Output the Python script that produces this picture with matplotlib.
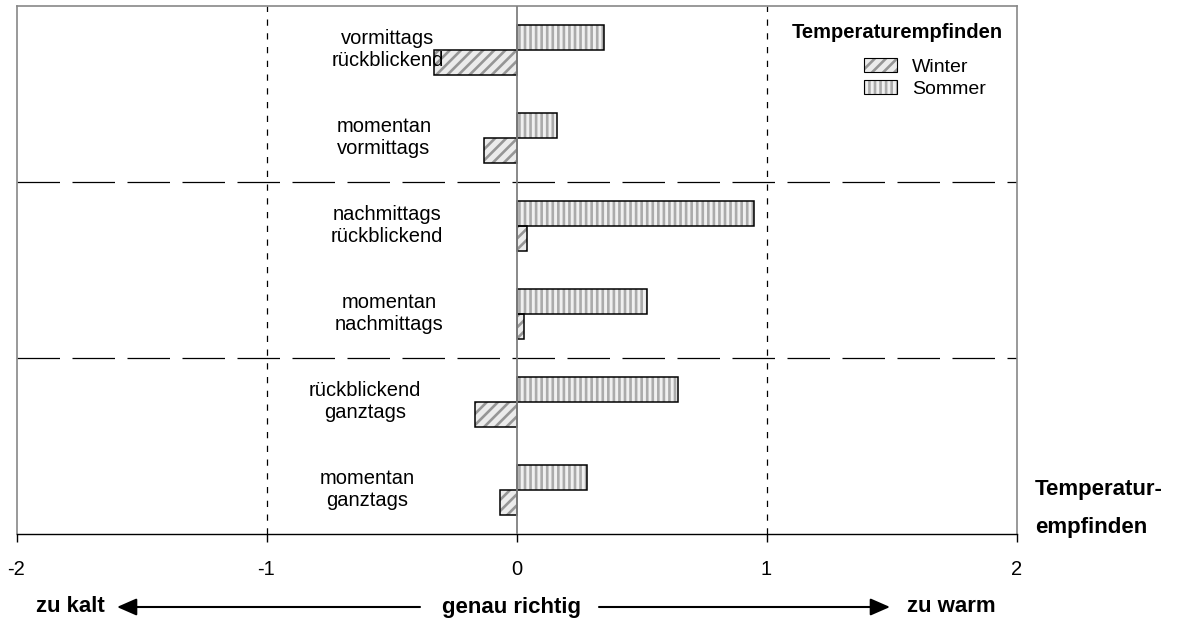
import matplotlib.pyplot as plt
import matplotlib.patches as mpatches
import numpy as np

plt.rcParams['font.family'] = ['Liberation Sans', 'DejaVu Sans']
plt.rcParams['hatch.linewidth'] = 1.9

# data (top to bottom)
labels = [
    "vormittags\nrückblickend",
    "momentan\nvormittags",
    "nachmittags\nrückblickend",
    "momentan\nnachmittags",
    "rückblickend\nganztags",
    "momentan\nganztags",
]
sommer = [0.35, 0.16, 0.95, 0.52, 0.645, 0.28]
winter = [-0.33, -0.13, 0.04, 0.03, -0.165, -0.065]
xticks = [-2, -1, 0, 1, 2]

# label x positions (axes fraction)
label_x = [0.3715, 0.3675, 0.3705, 0.3725, 0.3485, 0.3505]

fig = plt.figure(figsize=(11.83, 6.21), dpi=100)
ax = fig.add_axes([16.5 / 1183, 87 / 621, 1000 / 1183, 528 / 621])

y = np.arange(len(labels))
h = 0.284

# hatched fill layer, then black outline on top
ax.barh(y - h / 2, sommer, height=h, color="#f0f0f0", edgecolor="#ababab",
        hatch="|||", linewidth=0, zorder=3)
ax.barh(y - h / 2, sommer, height=h, fill=False, edgecolor="black",
        linewidth=1.1, zorder=4)
ax.barh(y + h / 2, winter, height=h, color="#ececec", edgecolor="#969696",
        hatch="///", linewidth=0, zorder=3)
ax.barh(y + h / 2, winter, height=h, fill=False, edgecolor="black",
        linewidth=1.1, zorder=4)

ax.set_xlim(-2, 2)
ax.set_ylim(5.5, -0.5)

ax.axvline(0, color="#808080", linewidth=1.3, zorder=5)
for xv in [-1, 1]:
    ax.axvline(xv, color="black", linewidth=0.9, dashes=(5, 6), zorder=1)
for yv in [1.5, 3.5]:
    ax.axhline(yv, color="black", linewidth=0.9, dashes=(34, 10), zorder=1)

for i, lab in enumerate(labels):
    ax.text(label_x[i], i, lab, transform=ax.get_yaxis_transform(),
            ha="center", va="center", fontsize=14.5, linespacing=1.2)

ax.set_yticks([])
ax.set_xticks(xticks)
ax.set_xticklabels([str(v) for v in xticks])
ax.tick_params(axis="x", direction="out", length=6, width=1, pad=13,
               labelsize=14.5)

for side in ["top", "right", "left"]:
    ax.spines[side].set_color("#888888")
    ax.spines[side].set_linewidth(1.2)
ax.spines["bottom"].set_color("black")
ax.spines["bottom"].set_linewidth(1)

# legend
fig.text(792 / 1183, 1 - 33 / 621, "Temperaturempfinden", fontsize=14.5,
         fontweight="bold", ha="left", va="center")
h_winter = (mpatches.Patch(facecolor="#ececec", edgecolor="#969696", hatch="///", linewidth=0),
            mpatches.Patch(fill=False, edgecolor="black", linewidth=0.8))
h_sommer = (mpatches.Patch(facecolor="#f0f0f0", edgecolor="#ababab", hatch="|||", linewidth=0),
            mpatches.Patch(fill=False, edgecolor="black", linewidth=0.8))
ax.legend([h_winter, h_sommer], ["Winter", "Sommer"], loc="upper left",
          bbox_to_anchor=(864 / 1183, 1 - 58 / 621), bbox_transform=fig.transFigure,
          frameon=False, borderpad=0, borderaxespad=0, fontsize=14,
          handlelength=1.7, handleheight=0.75, handletextpad=0.75,
          labelspacing=0.2)

# right side label
fig.text(1035 / 1183, 1 - 490 / 621, "Temperatur-", fontsize=16,
         fontweight="bold", ha="left", va="center")
fig.text(1035 / 1183, 1 - 527 / 621, "empfinden", fontsize=16,
         fontweight="bold", ha="left", va="center")

# bottom arrow row
yb = 1 - 607 / 621
fig.text(36 / 1183, yb, "zu kalt", fontsize=16, fontweight="bold",
         ha="left", va="center")
fig.text(512 / 1183, yb, "genau richtig", fontsize=16, fontweight="bold",
         ha="center", va="center")
fig.text(907 / 1183, yb, "zu warm", fontsize=16, fontweight="bold",
         ha="left", va="center")
arrow = dict(arrowstyle="-|>,head_length=0.8,head_width=0.35", color="black",
             linewidth=1.5, shrinkA=0, shrinkB=0, mutation_scale=15)
fig.add_artist(mpatches.FancyArrowPatch((420 / 1183, yb), (117 / 1183, yb),
                                        transform=fig.transFigure, **arrow))
fig.add_artist(mpatches.FancyArrowPatch((599 / 1183, yb), (890 / 1183, yb),
                                        transform=fig.transFigure, **arrow))

fig.savefig("out.png", dpi=100)
